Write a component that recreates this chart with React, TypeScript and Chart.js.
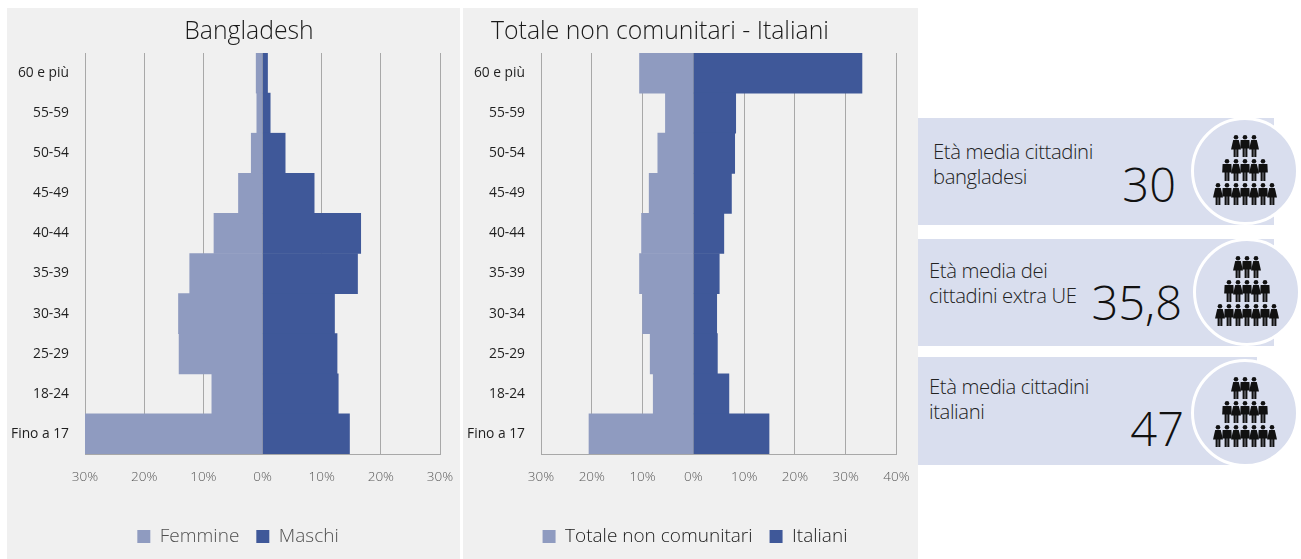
import React, { useEffect, useRef } from "react";
import { Chart, registerables } from "chart.js";

Chart.register(...registerables);

const ageGroups = ["60 e più", "55-59", "50-54", "45-49", "40-44", "35-39", "30-34", "25-29", "18-24", "Fino a 17"];
const femmine = [-1.07, -0.96, -1.9, -4.06, -8.2, -12.3, -14.2, -14.1, -8.56, -30];
const maschi = [0.85, 1.3, 3.83, 8.73, 16.6, 16.06, 12.17, 12.6, 12.8, 14.7];
const totaleNonComunitari = [-10.6, -5.5, -7.0, -8.7, -10.2, -10.6, -10.0, -8.5, -7.9, -20.55];
const italiani = [33.2, 8.34, 8.14, 7.5, 6.0, 5.1, 4.6, 4.73, 7.0, 14.9];

const LIGHT = "#8f9bc0";
const DARK = "#3f5899";
const FONT = "'Open Sans', sans-serif";

const unclipLabels = {
  id: "unclipLabels",
  beforeDraw(chart: any) {
    chart.scales.y.left = 0;
  },
};

function Pyramid(props: {
  panel: { left: number; width: number };
  plotLeft: number;
  plotRight: number;
  legendCenter: number;
  legendColor: string;
  names: [string, string];
  left: number[];
  right: number[];
  min: number;
  max: number;
}) {
  const ref = useRef<HTMLCanvasElement>(null);
  useEffect(() => {
    const { panel, plotLeft, plotRight, legendCenter } = props;
    const pr = plotRight - panel.left;
    const padLeft = 2 * (legendCenter - panel.left) - pr;
    const chart = new Chart(ref.current as HTMLCanvasElement, {
      type: "bar",
      plugins: [unclipLabels],
      data: {
        labels: ageGroups,
        datasets: [
          { label: props.names[0], data: props.left, backgroundColor: LIGHT, borderWidth: 0 },
          { label: props.names[1], data: props.right, backgroundColor: DARK, borderWidth: 0 },
        ],
      },
      options: {
        indexAxis: "y",
        animation: false,
        responsive: false,
        datasets: { bar: { barPercentage: 1, categoryPercentage: 1 } },
        layout: {
          padding: { left: padLeft, right: panel.width - pr, top: 45, bottom: 3 },
        },
        scales: {
          x: {
            stacked: true,
            min: props.min,
            max: props.max,
            ticks: {
              stepSize: 10,
              maxRotation: 0,
              autoSkip: false,
              padding: 15,
              color: "#595959",
              font: { family: FONT, size: 13.5, weight: "300" },
              callback: (v: any) => Math.abs(Number(v)) + "%",
            },
            grid: { color: "#a8a8a8", lineWidth: 1, drawTicks: false },
            border: { display: true, color: "#a8a8a8" },
            afterFit: (s: any) => { s.height = 56; s.paddingLeft = 0; s.paddingRight = 0; },
          },
          y: {
            stacked: true,
            ticks: {
              padding: 16,
              color: "#1f1f1f",
              font: { family: FONT, size: 13.8, weight: "400" },
            },
            grid: { display: false, drawTicks: false },
            border: { display: false },
            afterFit: (s: any) => { s.width = plotLeft - panel.left - padLeft; },
          },
        },
        plugins: {
          tooltip: { enabled: false },
          title: { display: false },
          legend: {
            display: true,
            position: "bottom",
            labels: {
              boxWidth: 13,
              boxHeight: 13,
              padding: 17,
              color: props.legendColor,
              font: { family: FONT, size: 19, weight: "300" },
            },
          },
        },
      },
    } as any);
    return () => chart.destroy();
  }, []);
  return (
    <canvas
      ref={ref}
      width={props.panel.width}
      height={551}
      style={{ position: "absolute", left: props.panel.left, top: 8, width: props.panel.width, height: 551, background: "#f0f0f0" }}
    />
  );
}

function Heading(props: { text: string; center: number }) {
  return (
    <div style={{ position: "absolute", left: props.center - 250, width: 500, top: 12, textAlign: "center", fontFamily: FONT, fontWeight: 300, fontSize: 24.8, lineHeight: "34px", color: "#1a1a1a", whiteSpace: "nowrap" }}>
      {props.text}
    </div>
  );
}

function Person(props: { x: number; y: number; skirt: boolean }) {
  const { x, y, skirt } = props;
  return (
    <g transform={`translate(${x} ${y})`} fill="#111">
      <circle cx={0} cy={2.2} r={2.3} />
      {skirt ? (
        <path d="M-2.8 5 H2.8 L5 14.5 H-5 Z" />
      ) : (
        <path d="M-4.4 5 H4.4 L4.8 13.5 H-4.8 Z" />
      )}
      <rect x={-2.4} y={12} width={2.1} height={10} />
      <rect x={0.3} y={12} width={2.1} height={10} />
    </g>
  );
}

const rowSizes = [3, 5, 7];

function Card(props: {
  top: number;
  height: number;
  right: number;
  cx: number;
  cy: number;
  lines: string[];
  textLeft: number;
  textTop: number;
  value: string;
  valueRight: number;
  valueTop: number;
}) {
  const { cx, cy } = props;
  return (
    <>
      <div style={{ position: "absolute", left: 918, top: props.top, width: props.right - 918, height: props.height, background: "#d9deee" }} />
      <div style={{ position: "absolute", left: cx - 54, top: cy - 54, width: 102, height: 102, borderRadius: "50%", border: "3px solid #fff", background: "#d9deee" }} />
      <svg width={110} height={110} style={{ position: "absolute", left: cx - 55, top: cy - 55 }}>
        {rowSizes.map((n, r) =>
          Array.from({ length: n }).map((_, i) => (
            <Person key={r + "-" + i} x={55 + (i - (n - 1) / 2) * 9} y={19 + r * 24} skirt={i % 2 === (r === 1 ? 1 : 0)} />
          ))
        )}
      </svg>
      <div style={{ position: "absolute", left: props.textLeft, top: props.textTop, fontFamily: FONT, fontWeight: 300, fontSize: 20.3, lineHeight: "25px", color: "#222", whiteSpace: "nowrap", letterSpacing: -0.4 }}>
        {props.lines.map((l) => (<div key={l}>{l}</div>))}
      </div>
      <div style={{ position: "absolute", right: 1301 - props.valueRight, top: props.valueTop, fontFamily: FONT, fontWeight: 300, fontSize: 47, lineHeight: "60px", color: "#111", whiteSpace: "nowrap" }}>
        {props.value}
      </div>
    </>
  );
}

export default function App() {
  return (
    <div style={{ position: "absolute", left: 0, top: 0, width: 1301, height: 559, overflow: "hidden", background: "#fff" }}>
      <Pyramid panel={{ left: 7, width: 453 }} plotLeft={85} plotRight={440} legendCenter={238} legendColor="#505050" names={["Femmine", "Maschi"]} left={femmine} right={maschi} min={-30} max={30} />
      <Pyramid panel={{ left: 463, width: 455 }} plotLeft={541} plotRight={896.5} legendCenter={695} legendColor="#1a1a1a" names={["Totale non comunitari", "Italiani"]} left={totaleNonComunitari} right={italiani} min={-30} max={40} />
      <Heading text="Bangladesh" center={249} />
      <Heading text="Totale non comunitari - Italiani" center={660} />
      <Card top={118} height={107} right={1274} cx={1245} cy={171} lines={["Età media cittadini", "bangladesi"]} textLeft={933} textTop={139} value="30" valueRight={1176} valueTop={154} />
      <Card top={239} height={107} right={1274} cx={1247} cy={292} lines={["Età media dei", "cittadini extra UE"]} textLeft={929} textTop={258} value="35,8" valueRight={1182} valueTop={272} />
      <Card top={357} height={108} right={1257} cx={1245} cy={413} lines={["Età media cittadini", "italiani"]} textLeft={929} textTop={374} value="47" valueRight={1184} valueTop={398} />
    </div>
  );
}
